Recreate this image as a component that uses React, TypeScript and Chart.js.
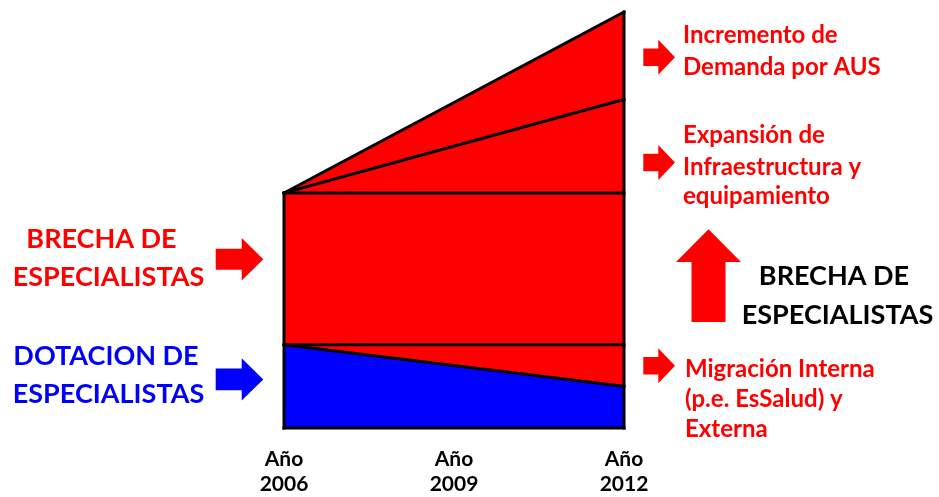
import React, { useEffect, useRef } from "react";
import { Chart, registerables } from "chart.js";

Chart.register(...registerables);

// Years at the two ends of the period, and the ticks shown on the axis
const periodYears = [2006, 2012];
const tickYears = [2006, 2009, 2012];

// Levels (relative units) at the start and end of the period
const dotacion = [20, 10];          // specialists available
const dotacionInicial = [20, 20];   // 2006 supply carried forward
const brechaBase = [56.5, 56.5];    // base gap level
const expansion = [56.5, 79];       // + infrastructure & equipment expansion
const incremento = [56.5, 100];     // + demand increase (AUS)

const RED = "#ff0000";
const BLUE = "#0000ff";
const BLACK = "#000000";
const FONT = "Lato, 'Open Sans', sans-serif";

const pts = (ys: number[]) => periodYears.map((x, i) => ({ x, y: ys[i] }));

type Label = { text: string; x: number; y: number; align: CanvasTextAlign; color: string; size: number };

const sideLabels: Label[] = [
  { text: "BRECHA DE", x: 101.5, y: 248, align: "center", color: RED, size: 27 },
  { text: "ESPECIALISTAS", x: 108.5, y: 286, align: "center", color: RED, size: 27 },
  { text: "DOTACION DE", x: 106, y: 365, align: "center", color: BLUE, size: 27 },
  { text: "ESPECIALISTAS", x: 108.5, y: 402.5, align: "center", color: BLUE, size: 27 },
  { text: "BRECHA DE", x: 834, y: 285, align: "center", color: BLACK, size: 27 },
  { text: "ESPECIALISTAS", x: 837.5, y: 323.5, align: "center", color: BLACK, size: 27 },
  { text: "Incremento de", x: 683, y: 43.3, align: "left", color: RED, size: 24 },
  { text: "Demanda por AUS", x: 683, y: 75, align: "left", color: RED, size: 24 },
  { text: "Expansión de", x: 683, y: 143.3, align: "left", color: RED, size: 24 },
  { text: "Infraestructura y", x: 683, y: 175, align: "left", color: RED, size: 24 },
  { text: "equipamiento", x: 683, y: 204, align: "left", color: RED, size: 24 },
  { text: "Migración Interna", x: 685, y: 376.5, align: "left", color: RED, size: 24 },
  { text: "(p.e. EsSalud) y", x: 685, y: 407, align: "left", color: RED, size: 24 },
  { text: "Externa", x: 685, y: 437, align: "left", color: RED, size: 24 },
];

type RightArrow = { x0: number; head: number; tip: number; cy: number; shaft: number; half: number; color: string };
const rightArrows: RightArrow[] = [
  { x0: 215.7, head: 241.7, tip: 263.3, cy: 259.2, shaft: 10.5, half: 21.2, color: RED },
  { x0: 215.7, head: 241.7, tip: 263.3, cy: 379.4, shaft: 10.8, half: 21.2, color: BLUE },
  { x0: 643.3, head: 658.3, tip: 675, cy: 57.3, shaft: 8.8, half: 17.5, color: RED },
  { x0: 643.3, head: 658.3, tip: 675, cy: 162.5, shaft: 8.8, half: 17.5, color: RED },
  { x0: 643.3, head: 658.3, tip: 675, cy: 365.8, shaft: 8.8, half: 17.5, color: RED },
];
const upArrow = { cx: 708.5, tip: 229.3, head: 262, bottom: 322, shaft: 17, half: 32.5, color: RED };

const annotationsPlugin = {
  id: "annotations",
  afterDraw(chart: Chart) {
    const ctx = chart.ctx;
    ctx.save();
    for (const a of rightArrows) {
      ctx.fillStyle = a.color;
      ctx.beginPath();
      ctx.moveTo(a.x0, a.cy - a.shaft);
      ctx.lineTo(a.head, a.cy - a.shaft);
      ctx.lineTo(a.head, a.cy - a.half);
      ctx.lineTo(a.tip, a.cy);
      ctx.lineTo(a.head, a.cy + a.half);
      ctx.lineTo(a.head, a.cy + a.shaft);
      ctx.lineTo(a.x0, a.cy + a.shaft);
      ctx.closePath();
      ctx.fill();
    }
    const u = upArrow;
    ctx.fillStyle = u.color;
    ctx.beginPath();
    ctx.moveTo(u.cx - u.shaft, u.bottom);
    ctx.lineTo(u.cx - u.shaft, u.head);
    ctx.lineTo(u.cx - u.half, u.head);
    ctx.lineTo(u.cx, u.tip);
    ctx.lineTo(u.cx + u.half, u.head);
    ctx.lineTo(u.cx + u.shaft, u.head);
    ctx.lineTo(u.cx + u.shaft, u.bottom);
    ctx.closePath();
    ctx.fill();

    ctx.textBaseline = "alphabetic";
    for (const l of sideLabels) {
      ctx.font = `bold ${l.size}px ${FONT}`;
      ctx.fillStyle = l.color;
      ctx.textAlign = l.align;
      ctx.fillText(l.text, l.x, l.y);
    }
    ctx.restore();
  },
};

const lineStyle = {
  borderColor: BLACK,
  borderWidth: 3,
  pointRadius: 0,
  tension: 0,
  clip: false as const,
  borderCapStyle: "square" as const,
  borderJoinStyle: "miter" as const,
};

export default function App() {
  const canvasRef = useRef<HTMLCanvasElement>(null);

  useEffect(() => {
    if (!canvasRef.current) return;
    const chart = new Chart(canvasRef.current, {
      type: "line",
      data: {
        datasets: [
          { ...lineStyle, label: "Incremento de demanda", data: pts(incremento), fill: "origin", backgroundColor: RED, order: 10 },
          { ...lineStyle, label: "Dotación de especialistas", data: pts(dotacion), fill: "origin", backgroundColor: BLUE, order: 9 },
          { ...lineStyle, label: "Expansión", data: pts(expansion), fill: false, order: 5 },
          { ...lineStyle, label: "Brecha", data: pts(brechaBase), fill: false, order: 4 },
          { ...lineStyle, label: "Dotación 2006", data: pts(dotacionInicial), fill: false, order: 3 },
          { ...lineStyle, label: "Borde izquierdo", data: [{ x: periodYears[0], y: 0 }, { x: periodYears[0], y: brechaBase[0] }], fill: false, order: 2 },
          { ...lineStyle, label: "Borde derecho", data: [{ x: periodYears[1], y: 0 }, { x: periodYears[1], y: incremento[1] }], fill: false, order: 2 },
          { ...lineStyle, label: "Base", data: [{ x: periodYears[0], y: 0 }, { x: periodYears[1], y: 0 }], fill: false, order: 1 },
        ],
      },
      options: {
        responsive: false,
        animation: false,
        devicePixelRatio: 1,
        layout: { padding: { left: 284, right: 315, top: 12, bottom: 0 } },
        plugins: { legend: { display: false }, tooltip: { enabled: false } },
        scales: {
          x: {
            type: "linear",
            min: tickYears[0],
            max: tickYears[tickYears.length - 1],
            offset: false,
            grid: { display: false, drawTicks: false },
            border: { display: false },
            afterBuildTicks: (scale: any) => {
              scale.ticks = tickYears.map((v) => ({ value: v }));
            },
            afterFit: (scale: any) => {
              scale.height = 69;
            },
            ticks: {
              padding: 19,
              color: BLACK,
              maxRotation: 0,
              autoSkip: false,
              font: { family: FONT, size: 21, weight: "bold", lineHeight: 1.17 },
              callback: (v: any) => ["Año", String(v)],
            },
          },
          y: { display: false, min: 0, max: 100 },
        },
      },
      plugins: [annotationsPlugin],
    });
    return () => chart.destroy();
  }, []);

  return (
    <div style={{ position: "fixed", left: 0, top: 0, width: 939, height: 497, background: "#fff" }}>
      <canvas ref={canvasRef} width={939} height={497} style={{ display: "block" }} />
    </div>
  );
}
